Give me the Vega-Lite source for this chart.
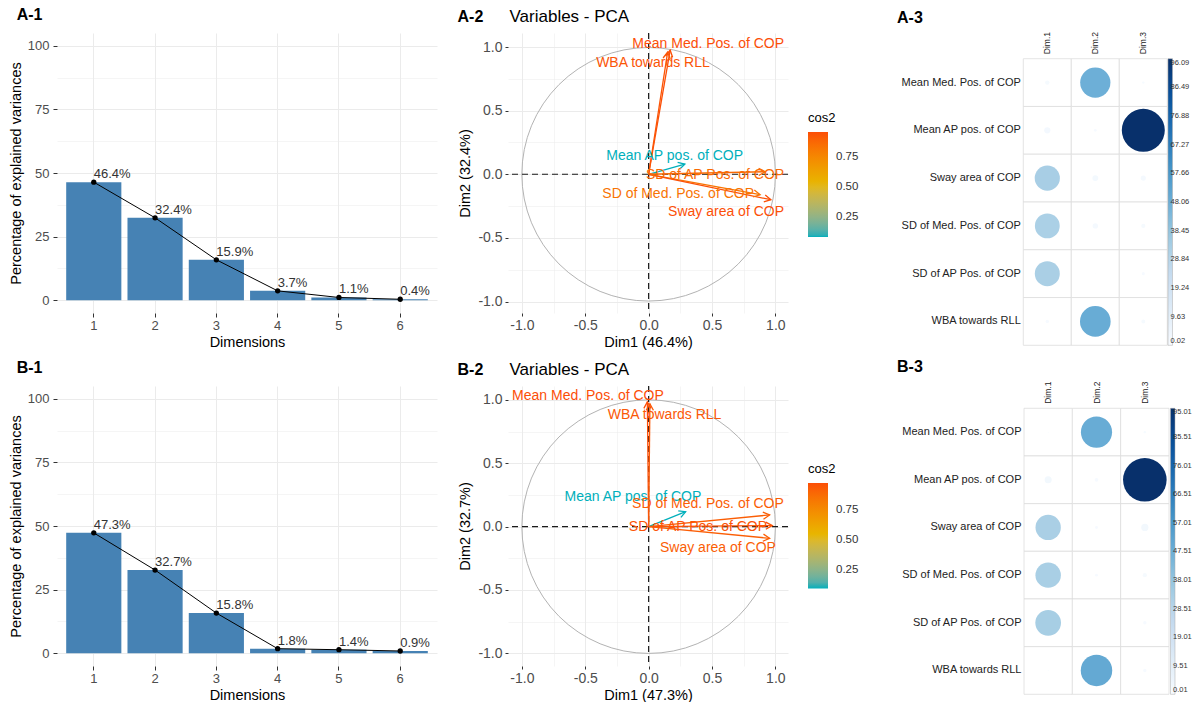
{
  "$schema": "https://vega.github.io/schema/vega-lite/v6.json",
  "padding": {"left": 8, "top": 7, "right": 0, "bottom": 0},
  "background": "white",
  "config": {
    "font": "Liberation Sans",
    "view": {"stroke": null},
    "axis": {"labelFont": "Liberation Sans", "titleFont": "Liberation Sans", "labelColor": "#4D4D4D", "titleColor": "#000000", "titleFontWeight": "normal", "tickColor": "#333333", "domain": false, "gridColor": "#EBEBEB", "gridWidth": 1},
    "legend": {"labelFont": "Liberation Sans", "titleFont": "Liberation Sans"},
    "title": {"font": "Liberation Sans"}
  },
  "datasets": {
    "scree_A": [
      {"dim": 1, "pct": 46.4, "lab": "46.4%"},
      {"dim": 2, "pct": 32.4, "lab": "32.4%"},
      {"dim": 3, "pct": 15.9, "lab": "15.9%"},
      {"dim": 4, "pct": 3.7, "lab": "3.7%"},
      {"dim": 5, "pct": 1.1, "lab": "1.1%"},
      {"dim": 6, "pct": 0.4, "lab": "0.4%"}
    ],
    "scree_B": [
      {"dim": 1, "pct": 47.3, "lab": "47.3%"},
      {"dim": 2, "pct": 32.7, "lab": "32.7%"},
      {"dim": 3, "pct": 15.8, "lab": "15.8%"},
      {"dim": 4, "pct": 1.8, "lab": "1.8%"},
      {"dim": 5, "pct": 1.4, "lab": "1.4%"},
      {"dim": 6, "pct": 0.9, "lab": "0.9%"}
    ],
    "origin": [{"x": 0, "y": 0}],
    "zero": [{"v": 0}],
    "pca_A": [
      {"var": "Mean Med. Pos. of COP", "x": 0.17, "y": 0.975, "cos2": 0.96, "lx": 0.47, "ly": 1.026},
      {"var": "WBA towards RLL", "x": 0.15, "y": 0.96, "cos2": 0.94, "lx": 0.034, "ly": 0.874},
      {"var": "Mean AP pos. of COP", "x": 0.286, "y": 0.08, "cos2": 0.085, "lx": 0.206, "ly": 0.147},
      {"var": "SD of AP Pos. of COP", "x": 0.92, "y": 0.02, "cos2": 0.87, "lx": 0.524, "ly": -0.003},
      {"var": "SD of Med. Pos. of COP", "x": 0.88, "y": -0.16, "cos2": 0.83, "lx": 0.233, "ly": -0.155},
      {"var": "Sway area of COP", "x": 0.965, "y": -0.2, "cos2": 0.955, "lx": 0.611, "ly": -0.299}
    ],
    "pca_B": [
      {"var": "Mean Med. Pos. of COP", "x": -0.01, "y": 0.985, "cos2": 0.97, "lx": -0.479, "ly": 1.028},
      {"var": "WBA towards RLL", "x": 0.01, "y": 0.97, "cos2": 0.94, "lx": 0.126, "ly": 0.88},
      {"var": "Mean AP pos. of COP", "x": 0.292, "y": 0.118, "cos2": 0.099, "lx": -0.124, "ly": 0.231},
      {"var": "SD of Med. Pos. of COP", "x": 0.955, "y": 0.092, "cos2": 0.92, "lx": 0.468, "ly": 0.179},
      {"var": "SD of AP Pos. of COP", "x": 0.976, "y": 0.008, "cos2": 0.953, "lx": 0.389, "ly": 0.0},
      {"var": "Sway area of COP", "x": 0.955, "y": -0.092, "cos2": 0.92, "lx": 0.547, "ly": -0.171}
    ],
    "contrib_A": [
      {"var": "Mean Med. Pos. of COP", "dim": "Dim.1", "value": 1.0},
      {"var": "Mean Med. Pos. of COP", "dim": "Dim.2", "value": 47.5},
      {"var": "Mean Med. Pos. of COP", "dim": "Dim.3", "value": 0.3},
      {"var": "Mean AP pos. of COP", "dim": "Dim.1", "value": 2.0},
      {"var": "Mean AP pos. of COP", "dim": "Dim.2", "value": 0.4},
      {"var": "Mean AP pos. of COP", "dim": "Dim.3", "value": 96.09},
      {"var": "Sway area of COP", "dim": "Dim.1", "value": 33.0},
      {"var": "Sway area of COP", "dim": "Dim.2", "value": 1.8},
      {"var": "Sway area of COP", "dim": "Dim.3", "value": 1.4},
      {"var": "SD of Med. Pos. of COP", "dim": "Dim.1", "value": 32.0},
      {"var": "SD of Med. Pos. of COP", "dim": "Dim.2", "value": 1.5},
      {"var": "SD of Med. Pos. of COP", "dim": "Dim.3", "value": 0.9},
      {"var": "SD of AP Pos. of COP", "dim": "Dim.1", "value": 32.4},
      {"var": "SD of AP Pos. of COP", "dim": "Dim.2", "value": 0.02},
      {"var": "SD of AP Pos. of COP", "dim": "Dim.3", "value": 0.5},
      {"var": "WBA towards RLL", "dim": "Dim.1", "value": 0.6},
      {"var": "WBA towards RLL", "dim": "Dim.2", "value": 48.8},
      {"var": "WBA towards RLL", "dim": "Dim.3", "value": 0.8}
    ],
    "contrib_B": [
      {"var": "Mean Med. Pos. of COP", "dim": "Dim.1", "value": 0.05},
      {"var": "Mean Med. Pos. of COP", "dim": "Dim.2", "value": 48.5},
      {"var": "Mean Med. Pos. of COP", "dim": "Dim.3", "value": 0.3},
      {"var": "Mean AP pos. of COP", "dim": "Dim.1", "value": 2.5},
      {"var": "Mean AP pos. of COP", "dim": "Dim.2", "value": 0.7},
      {"var": "Mean AP pos. of COP", "dim": "Dim.3", "value": 95.01},
      {"var": "Sway area of COP", "dim": "Dim.1", "value": 32.0},
      {"var": "Sway area of COP", "dim": "Dim.2", "value": 0.4},
      {"var": "Sway area of COP", "dim": "Dim.3", "value": 2.6},
      {"var": "SD of Med. Pos. of COP", "dim": "Dim.1", "value": 32.3},
      {"var": "SD of Med. Pos. of COP", "dim": "Dim.2", "value": 0.4},
      {"var": "SD of Med. Pos. of COP", "dim": "Dim.3", "value": 0.9},
      {"var": "SD of AP Pos. of COP", "dim": "Dim.1", "value": 33.1},
      {"var": "SD of AP Pos. of COP", "dim": "Dim.2", "value": 0.01},
      {"var": "SD of AP Pos. of COP", "dim": "Dim.3", "value": 0.6},
      {"var": "WBA towards RLL", "dim": "Dim.1", "value": 0.05},
      {"var": "WBA towards RLL", "dim": "Dim.2", "value": 49.5},
      {"var": "WBA towards RLL", "dim": "Dim.3", "value": 0.6}
    ]
  },
  "columns": 3,
  "spacing": {"row": 41, "column": 71},
  "bounds": "flush",
  "align": "each",
  "resolve": {"scale": {"color": "independent", "size": "independent", "x": "independent", "y": "independent"}, "legend": {"color": "independent", "size": "independent"}},
  "concat": [
    {
      "width": 380, "height": 280,
      "title": {"text": "A-1", "anchor": "start", "frame": "group", "dx": -40.3, "offset": -3, "baseline": "alphabetic", "fontSize": 16, "fontWeight": "bold", "color": "#000000"},
      "data": {"name": "scree_A"},
      "encoding": {
        "x": {"field": "dim", "type": "ordinal", "scale": {"paddingInner": 0.1, "paddingOuter": 0.15},
          "axis": {"title": "Dimensions", "labelAngle": 0, "labelFontSize": 13, "titleFontSize": 14.5, "tickSize": 4, "labelPadding": 2, "titlePadding": 3, "grid": true, "bandPosition": 0.5}},
        "y": {"field": "pct", "type": "quantitative", "scale": {"domain": [-5, 105], "nice": false, "zero": false},
          "axis": {"title": "Percentage of explained variances", "values": [0, 12.5, 25, 37.5, 50, 62.5, 75, 87.5, 100],
            "labelExpr": "datum.value % 25 == 0 ? datum.label : ''",
            "tickOpacity": {"condition": {"test": "datum.value % 25 != 0", "value": 0}, "value": 1},
            "gridWidth": {"condition": {"test": "datum.value % 25 != 0", "value": 0.5}, "value": 1},
            "labelFontSize": 13, "titleFontSize": 14.5, "tickSize": 4, "labelPadding": 4, "titlePadding": 4, "grid": true}}
      },
      "layer": [
        {"mark": {"type": "bar", "color": "#4682B4"}},
        {"mark": {"type": "line", "color": "#000000", "strokeWidth": 1}},
        {"mark": {"type": "point", "filled": true, "color": "#000000", "size": 28, "opacity": 1}},
        {"mark": {"type": "text", "align": "left", "baseline": "alphabetic", "dy": -4, "fontSize": 13, "color": "#333333"}, "encoding": {"text": {"field": "lab"}}}
      ]
    },
    {
      "width": 280, "height": 280,
      "layer": [
        {"data": {"name": "origin"},
         "mark": {"type": "point", "shape": "circle", "filled": false, "size": 64300, "color": "#B3B3B3", "strokeWidth": 1, "opacity": 1},
         "encoding": {
           "x": {"field": "x", "type": "quantitative", "scale": {"domain": [-1.11, 1.10], "nice": false, "zero": false},
             "axis": {"orient": "bottom", "title": "Dim1 (46.4%)", "values": [-1, -0.75, -0.5, -0.25, 0, 0.25, 0.5, 0.75, 1],
               "labelExpr": "datum.value % 0.5 == 0 ? replace(format(datum.value, '.1f'), '\u2212', '-') : ''",
               "tickOpacity": {"condition": {"test": "datum.value % 0.5 != 0", "value": 0}, "value": 1},
               "gridWidth": {"condition": {"test": "datum.value % 0.5 != 0", "value": 0.5}, "value": 1},
               "labelFontSize": 14, "titleFontSize": 14.5, "tickSize": 3, "labelPadding": 2, "titlePadding": 3, "grid": true}},
           "y": {"field": "y", "type": "quantitative", "scale": {"domain": [-1.09, 1.11], "nice": false, "zero": false},
             "axis": {"orient": "left", "title": "Dim2 (32.4%)", "values": [-1, -0.75, -0.5, -0.25, 0, 0.25, 0.5, 0.75, 1],
               "labelExpr": "datum.value % 0.5 == 0 ? replace(format(datum.value, '.1f'), '\u2212', '-') : ''",
               "tickOpacity": {"condition": {"test": "datum.value % 0.5 != 0", "value": 0}, "value": 1},
               "gridWidth": {"condition": {"test": "datum.value % 0.5 != 0", "value": 0.5}, "value": 1},
               "labelFontSize": 14, "titleFontSize": 14.5, "tickSize": 3, "labelPadding": 3, "titlePadding": 5, "grid": true}}
         }},
        {"data": {"name": "zero"},
         "mark": {"type": "rule", "strokeDash": [6, 4], "color": "#1A1A1A", "strokeWidth": 1.2},
         "encoding": {"x": {"field": "v", "type": "quantitative",
           "axis": {"orient": "top", "title": "A-2", "titleX": -51, "titleY": -12, "titleAlign": "left", "titleBaseline": "alphabetic", "titleAngle": 0, "titleFontSize": 16, "titleFontWeight": "bold", "titleColor": "#000000", "labels": false, "ticks": false, "domain": false, "grid": false}}}},
        {"data": {"name": "zero"},
         "mark": {"type": "rule", "strokeDash": [6, 4], "color": "#1A1A1A", "strokeWidth": 1.2},
         "encoding": {"y": {"field": "v", "type": "quantitative",
           "axis": {"orient": "right", "title": "Variables - PCA", "titleX": -279, "titleY": -12, "titleAlign": "left", "titleBaseline": "alphabetic", "titleAngle": 0, "titleFontSize": 17, "titleFontWeight": "normal", "titleColor": "#000000", "labels": false, "ticks": false, "domain": false, "grid": false}}}},
        {"data": {"name": "pca_A"},
         "mark": {"type": "rule", "strokeWidth": 1.3},
         "encoding": {
           "x": {"field": "x", "type": "quantitative", "axis": null},
           "y": {"field": "y", "type": "quantitative", "axis": null},
           "x2": {"datum": 0}, "y2": {"datum": 0},
           "color": {"field": "cos2", "type": "quantitative", "scale": {"domain": [0.085, 0.96], "range": ["#00AFBB", "#E7B800", "#FC4E07"], "interpolate": "lab"}, "legend": null}
         }},
        {"data": {"name": "pca_A"},
         "mark": {"type": "point", "shape": "M -1 -0.55 L 0 0 L -1 0.55", "filled": false, "size": 170, "strokeWidth": 1.3, "opacity": 1, "angle": {"expr": "-atan2(datum.y, datum.x) * 180 / PI"}},
         "encoding": {
           "x": {"field": "x", "type": "quantitative", "axis": null},
           "y": {"field": "y", "type": "quantitative", "axis": null},
           "color": {"field": "cos2", "type": "quantitative", "legend": null}
         }},
        {"data": {"name": "pca_A"},
         "mark": {"type": "text", "fontSize": 14, "align": "center", "baseline": "middle"},
         "encoding": {
           "x": {"field": "lx", "type": "quantitative", "axis": null},
           "y": {"field": "ly", "type": "quantitative", "axis": null},
           "text": {"field": "var"},
           "color": {"field": "cos2", "type": "quantitative",
             "legend": {"type": "gradient", "orient": "none", "legendX": 300, "legendY": 79, "direction": "vertical", "title": "cos2", "titleFontSize": 13, "titleFontWeight": "normal", "titleColor": "#000000", "titlePadding": 7, "gradientLength": 105, "gradientThickness": 20, "values": [0.25, 0.5, 0.75], "format": ".2f", "labelFontSize": 11.5, "labelColor": "#333333", "labelOffset": 8, "labelOverlap": false, "padding": 0}}
         }}
      ],
      "resolve": {"axis": {"x": "independent", "y": "independent"}, "legend": {"color": "independent"}}
    },
    {
      "width": 310, "height": 312,
      "title": {"text": "A-3", "anchor": "start", "frame": "group", "dx": 38, "offset": -7, "baseline": "alphabetic", "fontSize": 16, "fontWeight": "bold", "color": "#000000"},
      "data": {"name": "contrib_A"},
      "encoding": {
        "x": {"field": "dim", "type": "nominal", "scale": {"range": [164.3, 308.3], "paddingInner": 0, "paddingOuter": 0},
          "axis": {"orient": "top", "offset": -25.7, "labelAngle": 270, "labelFontSize": 8.5, "labelColor": "#222222", "labelPadding": 5, "ticks": false, "grid": false, "title": null}},
        "y": {"field": "var", "type": "nominal", "sort": ["Mean Med. Pos. of COP", "Mean AP pos. of COP", "Sway area of COP", "SD of Med. Pos. of COP", "SD of AP Pos. of COP", "WBA towards RLL"],
          "scale": {"range": [25.7, 312.3], "paddingInner": 0, "paddingOuter": 0},
          "axis": {"orient": "left", "offset": -164.3, "labelFontSize": 11, "labelColor": "#222222", "labelPadding": 3, "ticks": false, "grid": false, "title": null}}
      },
      "layer": [
        {"mark": {"type": "rect", "fill": "#FFFFFF", "stroke": "#DDDDDD", "strokeWidth": 0.8}},
        {"mark": {"type": "point", "shape": "circle", "filled": true, "opacity": 1},
         "encoding": {
           "color": {"field": "value", "type": "quantitative",
             "scale": {"domain": [0.02, 12.03, 24.04, 36.05, 48.055, 60.06, 72.07, 84.08, 96.09], "range": ["#F7FBFF", "#DEEBF7", "#C6DBEF", "#9ECAE1", "#6BAED6", "#4292C6", "#2171B5", "#08519C", "#08306B"], "interpolate": "rgb"},
             "legend": {"type": "gradient", "orient": "none", "legendX": 309, "legendY": 25.7, "direction": "vertical", "title": null, "gradientLength": 286.6, "gradientThickness": 4.5, "values": [0.02, 9.63, 19.24, 28.84, 38.45, 48.06, 57.66, 67.27, 76.88, 86.49, 96.09], "format": ".2f", "labelFontSize": 7.5, "labelColor": "#333333", "labelOffset": -2, "labelOverlap": false, "labelBaseline": "middle", "gradientStrokeColor": "#AAAAAA", "gradientStrokeWidth": 0.5, "padding": 0}},
           "size": {"field": "value", "type": "quantitative", "scale": {"domain": [0, 96.09], "range": [0, 1850]}, "legend": null}
         }}
      ]
    },
    {
      "width": 380, "height": 280,
      "title": {"text": "B-1", "anchor": "start", "frame": "group", "dx": -40.3, "offset": -3, "baseline": "alphabetic", "fontSize": 16, "fontWeight": "bold", "color": "#000000"},
      "data": {"name": "scree_B"},
      "encoding": {
        "x": {"field": "dim", "type": "ordinal", "scale": {"paddingInner": 0.1, "paddingOuter": 0.15},
          "axis": {"title": "Dimensions", "labelAngle": 0, "labelFontSize": 13, "titleFontSize": 14.5, "tickSize": 4, "labelPadding": 2, "titlePadding": 3, "grid": true, "bandPosition": 0.5}},
        "y": {"field": "pct", "type": "quantitative", "scale": {"domain": [-5, 105], "nice": false, "zero": false},
          "axis": {"title": "Percentage of explained variances", "values": [0, 12.5, 25, 37.5, 50, 62.5, 75, 87.5, 100],
            "labelExpr": "datum.value % 25 == 0 ? datum.label : ''",
            "tickOpacity": {"condition": {"test": "datum.value % 25 != 0", "value": 0}, "value": 1},
            "gridWidth": {"condition": {"test": "datum.value % 25 != 0", "value": 0.5}, "value": 1},
            "labelFontSize": 13, "titleFontSize": 14.5, "tickSize": 4, "labelPadding": 4, "titlePadding": 4, "grid": true}}
      },
      "layer": [
        {"mark": {"type": "bar", "color": "#4682B4"}},
        {"mark": {"type": "line", "color": "#000000", "strokeWidth": 1}},
        {"mark": {"type": "point", "filled": true, "color": "#000000", "size": 28, "opacity": 1}},
        {"mark": {"type": "text", "align": "left", "baseline": "alphabetic", "dy": -4, "fontSize": 13, "color": "#333333"}, "encoding": {"text": {"field": "lab"}}}
      ]
    },
    {
      "width": 280, "height": 280,
      "layer": [
        {"data": {"name": "origin"},
         "mark": {"type": "point", "shape": "circle", "filled": false, "size": 64300, "color": "#B3B3B3", "strokeWidth": 1, "opacity": 1},
         "encoding": {
           "x": {"field": "x", "type": "quantitative", "scale": {"domain": [-1.11, 1.10], "nice": false, "zero": false},
             "axis": {"orient": "bottom", "title": "Dim1 (47.3%)", "values": [-1, -0.75, -0.5, -0.25, 0, 0.25, 0.5, 0.75, 1],
               "labelExpr": "datum.value % 0.5 == 0 ? replace(format(datum.value, '.1f'), '\u2212', '-') : ''",
               "tickOpacity": {"condition": {"test": "datum.value % 0.5 != 0", "value": 0}, "value": 1},
               "gridWidth": {"condition": {"test": "datum.value % 0.5 != 0", "value": 0.5}, "value": 1},
               "labelFontSize": 14, "titleFontSize": 14.5, "tickSize": 3, "labelPadding": 2, "titlePadding": 3, "grid": true}},
           "y": {"field": "y", "type": "quantitative", "scale": {"domain": [-1.1, 1.11], "nice": false, "zero": false},
             "axis": {"orient": "left", "title": "Dim2 (32.7%)", "values": [-1, -0.75, -0.5, -0.25, 0, 0.25, 0.5, 0.75, 1],
               "labelExpr": "datum.value % 0.5 == 0 ? replace(format(datum.value, '.1f'), '\u2212', '-') : ''",
               "tickOpacity": {"condition": {"test": "datum.value % 0.5 != 0", "value": 0}, "value": 1},
               "gridWidth": {"condition": {"test": "datum.value % 0.5 != 0", "value": 0.5}, "value": 1},
               "labelFontSize": 14, "titleFontSize": 14.5, "tickSize": 3, "labelPadding": 3, "titlePadding": 5, "grid": true}}
         }},
        {"data": {"name": "zero"},
         "mark": {"type": "rule", "strokeDash": [6, 4], "color": "#1A1A1A", "strokeWidth": 1.2},
         "encoding": {"x": {"field": "v", "type": "quantitative",
           "axis": {"orient": "top", "title": "B-2", "titleX": -51, "titleY": -12, "titleAlign": "left", "titleBaseline": "alphabetic", "titleAngle": 0, "titleFontSize": 16, "titleFontWeight": "bold", "titleColor": "#000000", "labels": false, "ticks": false, "domain": false, "grid": false}}}},
        {"data": {"name": "zero"},
         "mark": {"type": "rule", "strokeDash": [6, 4], "color": "#1A1A1A", "strokeWidth": 1.2},
         "encoding": {"y": {"field": "v", "type": "quantitative",
           "axis": {"orient": "right", "title": "Variables - PCA", "titleX": -279, "titleY": -12, "titleAlign": "left", "titleBaseline": "alphabetic", "titleAngle": 0, "titleFontSize": 17, "titleFontWeight": "normal", "titleColor": "#000000", "labels": false, "ticks": false, "domain": false, "grid": false}}}},
        {"data": {"name": "pca_B"},
         "mark": {"type": "rule", "strokeWidth": 1.3},
         "encoding": {
           "x": {"field": "x", "type": "quantitative", "axis": null},
           "y": {"field": "y", "type": "quantitative", "axis": null},
           "x2": {"datum": 0}, "y2": {"datum": 0},
           "color": {"field": "cos2", "type": "quantitative", "scale": {"domain": [0.099, 0.97], "range": ["#00AFBB", "#E7B800", "#FC4E07"], "interpolate": "lab"}, "legend": null}
         }},
        {"data": {"name": "pca_B"},
         "mark": {"type": "point", "shape": "M -1 -0.55 L 0 0 L -1 0.55", "filled": false, "size": 170, "strokeWidth": 1.3, "opacity": 1, "angle": {"expr": "-atan2(datum.y, datum.x) * 180 / PI"}},
         "encoding": {
           "x": {"field": "x", "type": "quantitative", "axis": null},
           "y": {"field": "y", "type": "quantitative", "axis": null},
           "color": {"field": "cos2", "type": "quantitative", "legend": null}
         }},
        {"data": {"name": "pca_B"},
         "mark": {"type": "text", "fontSize": 14, "align": "center", "baseline": "middle"},
         "encoding": {
           "x": {"field": "lx", "type": "quantitative", "axis": null},
           "y": {"field": "ly", "type": "quantitative", "axis": null},
           "text": {"field": "var"},
           "color": {"field": "cos2", "type": "quantitative",
             "legend": {"type": "gradient", "orient": "none", "legendX": 300, "legendY": 77, "direction": "vertical", "title": "cos2", "titleFontSize": 13, "titleFontWeight": "normal", "titleColor": "#000000", "titlePadding": 7, "gradientLength": 105.6, "gradientThickness": 20, "values": [0.25, 0.5, 0.75], "format": ".2f", "labelFontSize": 11.5, "labelColor": "#333333", "labelOffset": 8, "labelOverlap": false, "padding": 0}}
         }}
      ],
      "resolve": {"axis": {"x": "independent", "y": "independent"}, "legend": {"color": "independent"}}
    },
    {
      "width": 312, "height": 310,
      "title": {"text": "B-3", "anchor": "start", "frame": "group", "dx": 38, "offset": -7, "baseline": "alphabetic", "fontSize": 16, "fontWeight": "bold", "color": "#000000"},
      "data": {"name": "contrib_B"},
      "encoding": {
        "x": {"field": "dim", "type": "nominal", "scale": {"range": [165, 310], "paddingInner": 0, "paddingOuter": 0},
          "axis": {"orient": "top", "offset": -22.3, "labelAngle": 270, "labelFontSize": 8.5, "labelColor": "#222222", "labelPadding": 5, "ticks": false, "grid": false, "title": null}},
        "y": {"field": "var", "type": "nominal", "sort": ["Mean Med. Pos. of COP", "Mean AP pos. of COP", "Sway area of COP", "SD of Med. Pos. of COP", "SD of AP Pos. of COP", "WBA towards RLL"],
          "scale": {"range": [22.3, 308.3], "paddingInner": 0, "paddingOuter": 0},
          "axis": {"orient": "left", "offset": -165, "labelFontSize": 11, "labelColor": "#222222", "labelPadding": 3, "ticks": false, "grid": false, "title": null}}
      },
      "layer": [
        {"mark": {"type": "rect", "fill": "#FFFFFF", "stroke": "#DDDDDD", "strokeWidth": 0.8}},
        {"mark": {"type": "point", "shape": "circle", "filled": true, "opacity": 1},
         "encoding": {
           "color": {"field": "value", "type": "quantitative",
             "scale": {"domain": [0.01, 11.885, 23.76, 35.635, 47.51, 59.385, 71.26, 83.135, 95.01], "range": ["#F7FBFF", "#DEEBF7", "#C6DBEF", "#9ECAE1", "#6BAED6", "#4292C6", "#2171B5", "#08519C", "#08306B"], "interpolate": "rgb"},
             "legend": {"type": "gradient", "orient": "none", "legendX": 311.5, "legendY": 22.3, "direction": "vertical", "title": null, "gradientLength": 286, "gradientThickness": 4.5, "values": [0.01, 9.51, 19.01, 28.51, 38.01, 47.51, 57.01, 66.51, 76.01, 85.51, 95.01], "format": ".2f", "labelFontSize": 7.5, "labelColor": "#333333", "labelOffset": -2, "labelOverlap": false, "labelBaseline": "middle", "gradientStrokeColor": "#AAAAAA", "gradientStrokeWidth": 0.5, "padding": 0}},
           "size": {"field": "value", "type": "quantitative", "scale": {"domain": [0, 95.01], "range": [0, 1900]}, "legend": null}
         }}
      ]
    }
  ]
}
